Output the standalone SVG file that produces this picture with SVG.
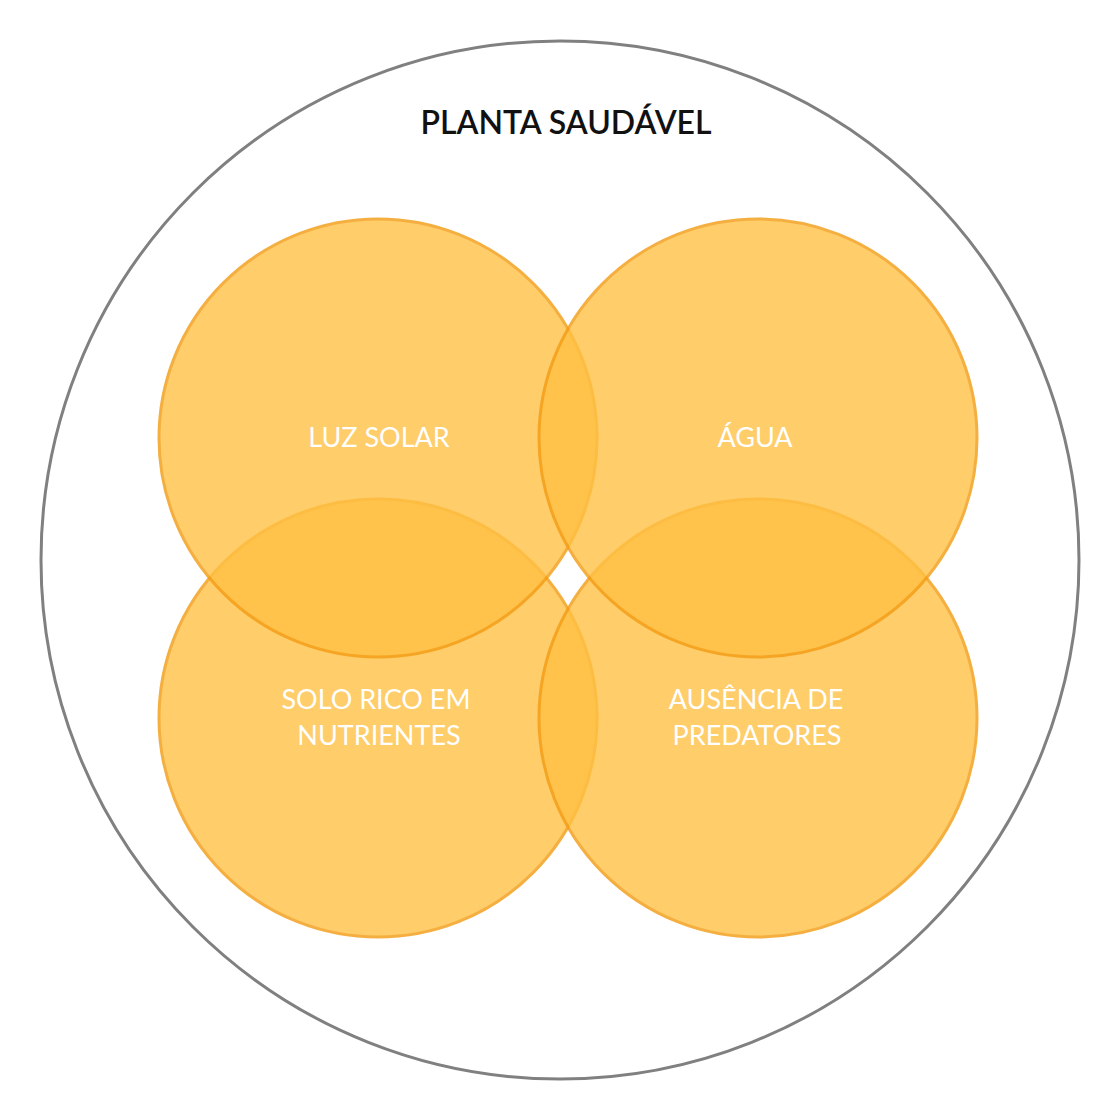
<svg xmlns="http://www.w3.org/2000/svg" width="1120" height="1120" viewBox="0 0 1120 1120">
  <style>
    .set { fill: #FFC144; stroke: #F39C12; stroke-width: 3; }
    .setg { opacity: 0.8; }
    .label { font-family: Lato, "Liberation Sans", sans-serif; font-size: 27px; fill: #FFFFFF; text-anchor: middle; }
    .title { font-family: Lato, "Liberation Sans", sans-serif; font-size: 32px; font-weight: 600; fill: #111111; text-anchor: middle; }
  </style>
  <rect width="1120" height="1120" fill="#FFFFFF"/>
  <!-- outer universe: healthy plant -->
  <g id="planta-saudavel">
    <circle cx="560" cy="560" r="519" fill="none" stroke="#808080" stroke-width="3"/>
    <text class="title" x="566" y="134">PLANTA SAUDÁVEL</text>
  </g>
  <!-- four overlapping condition sets -->
  <g id="solo" class="setg">
    <circle class="set" cx="378" cy="718" r="219"/>
  </g>
  <g id="predadores" class="setg">
    <circle class="set" cx="758" cy="718" r="219"/>
  </g>
  <g id="luz" class="setg">
    <circle class="set" cx="378" cy="438" r="219"/>
  </g>
  <g id="agua" class="setg">
    <circle class="set" cx="758" cy="438" r="219"/>
  </g>
  <g id="labels">
    <text class="label" x="379" y="447">LUZ SOLAR</text>
    <text class="label" x="755" y="447">ÁGUA</text>
    <text class="label" x="376" y="709">SOLO RICO EM</text>
    <text class="label" x="379" y="745">NUTRIENTES</text>
    <text class="label" x="756" y="709">AUSÊNCIA DE</text>
    <text class="label" x="757" y="745">PREDATORES</text>
  </g>
  <g id="connectors"/>
</svg>
